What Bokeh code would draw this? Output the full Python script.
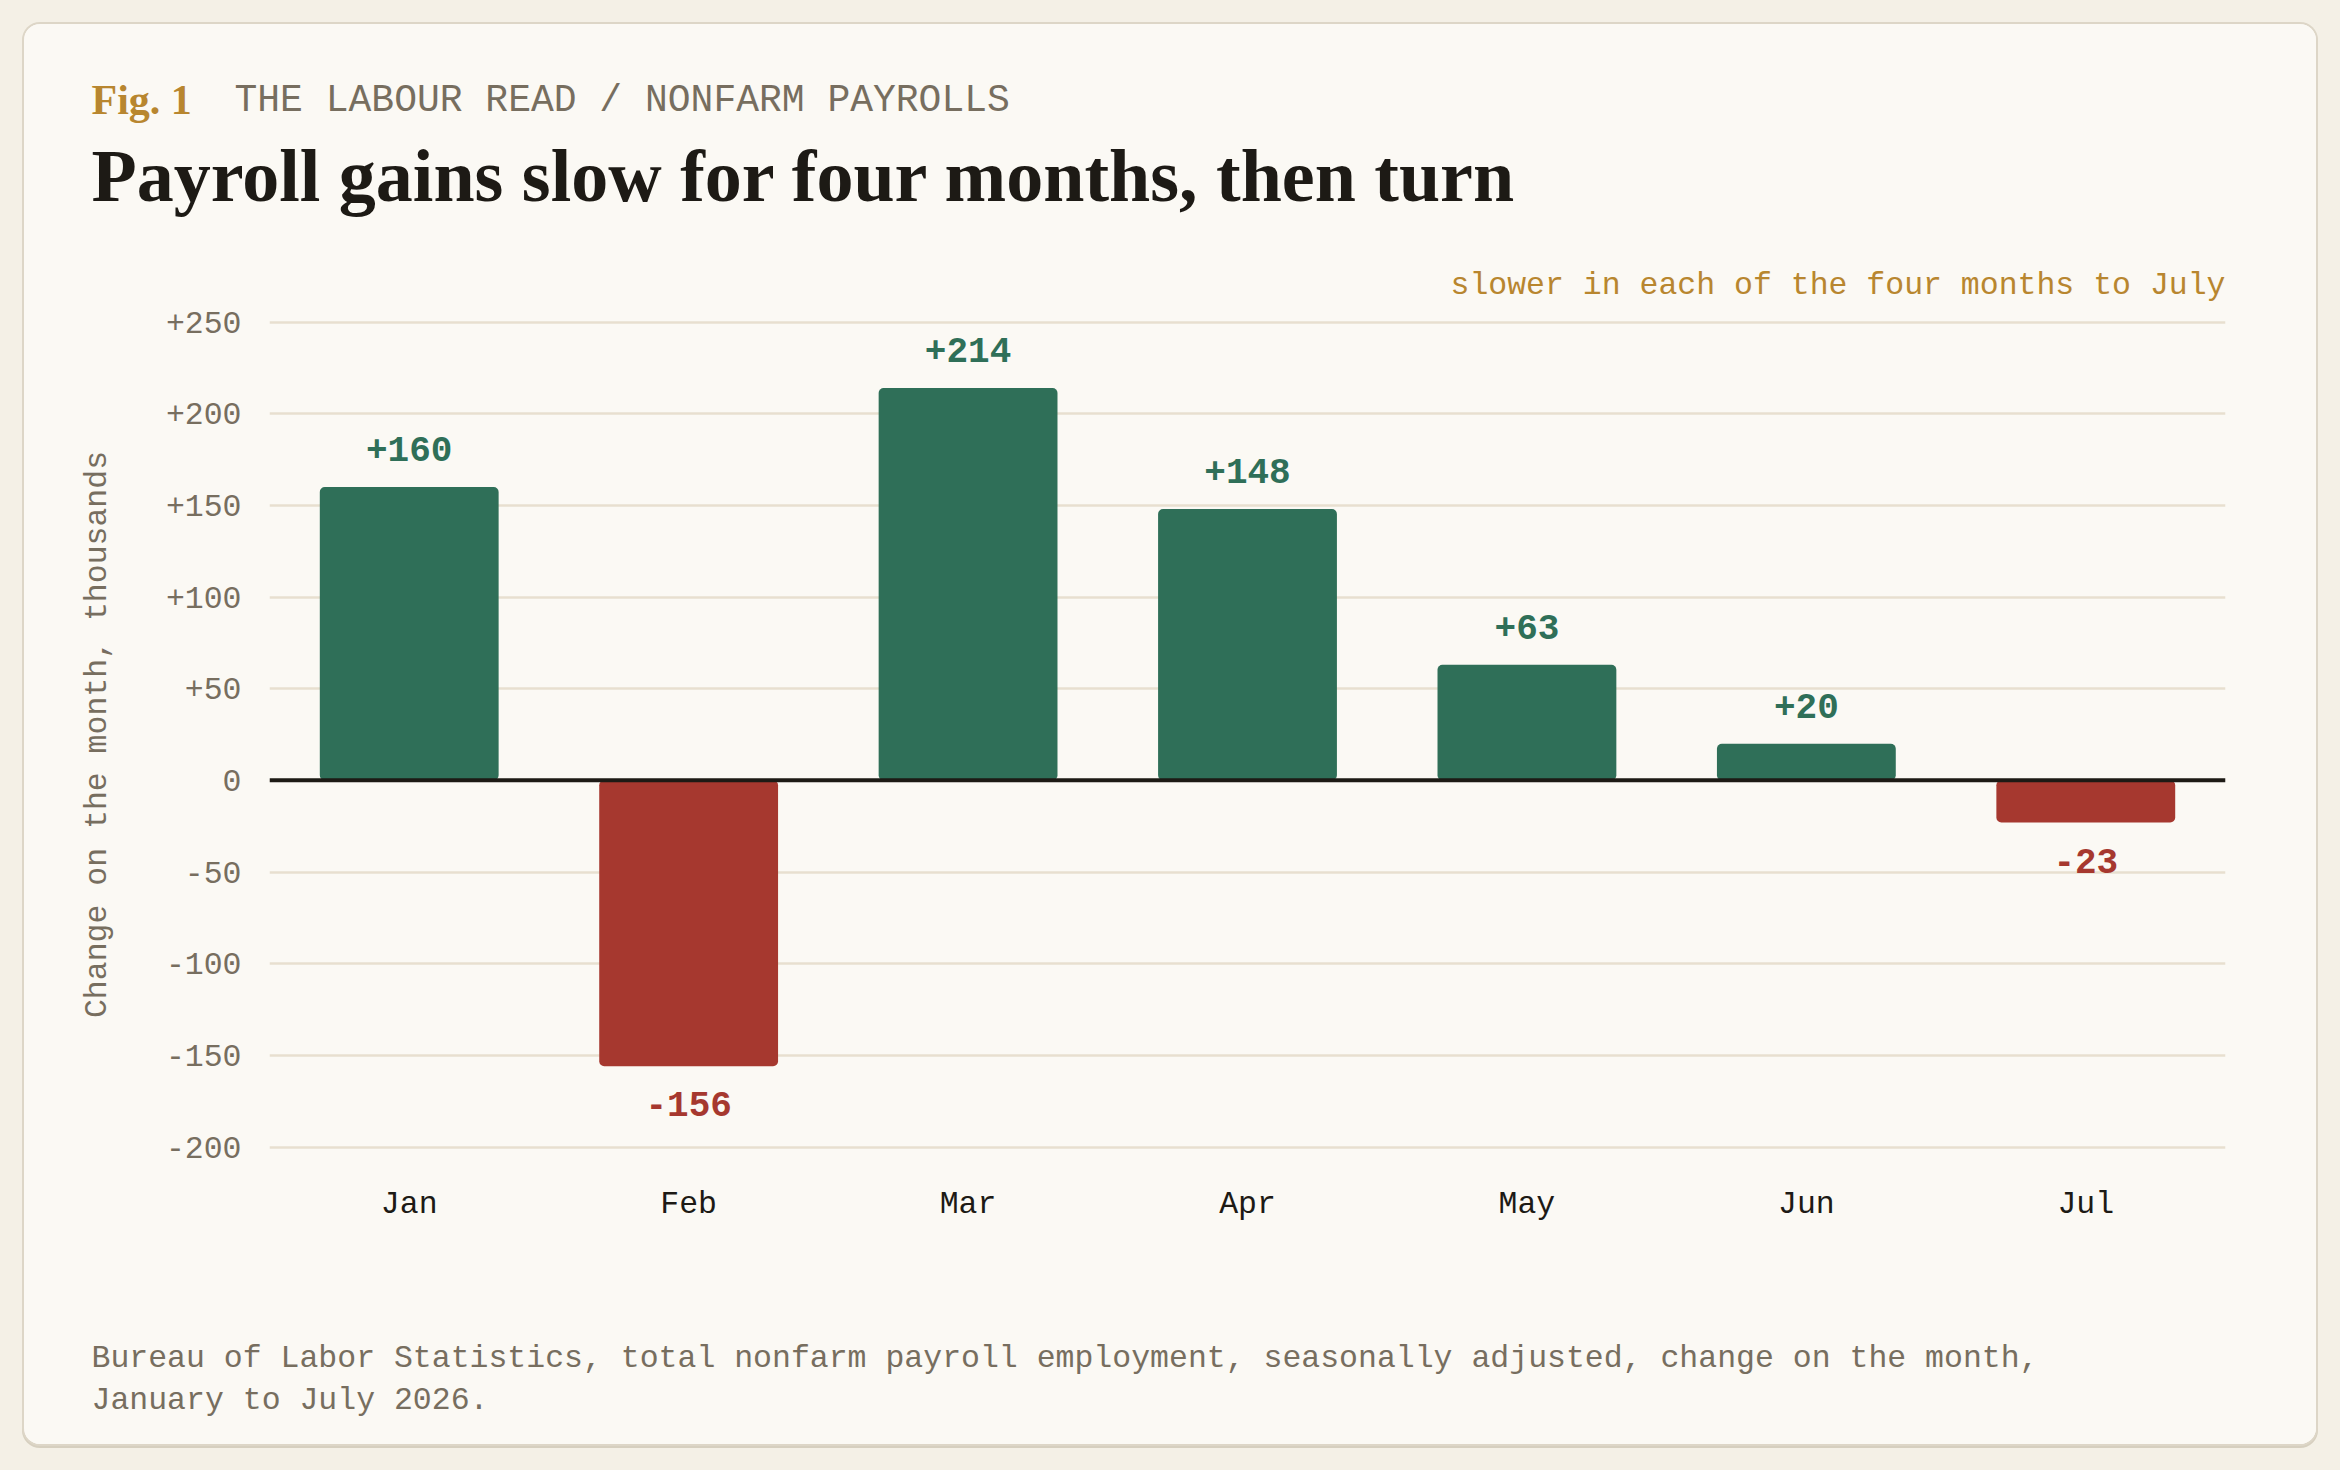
from bokeh.plotting import figure
from bokeh.models import ColumnDataSource, FactorRange, Range1d, Label, Span, Spacer
from bokeh.layouts import column, row
from bokeh.core.properties import value
from bokeh.embed import file_html
from bokeh.resources import INLINE

# data
months = ["Jan", "Feb", "Mar", "Apr", "May", "Jun", "Jul"]
change = [160, -156, 214, 148, 63, 20, -23]
y_ticks = [-200, -150, -100, -50, 0, 50, 100, 150, 200, 250]
y_tick_labels = ["-200", "-150", "-100", "-50", "0", "+50", "+100", "+150", "+200", "+250"]

# colours
PAGE = "#f4f0e6"
CARD = "#fbf9f4"
GREEN = "#2f6f58"
RED = "#a6382f"
GOLD = "#b8862f"
MUTED = "#776e5f"
INK = "#1d1a15"
GRID = "#e8dfcf"
MONO = "Liberation Mono"
SERIF = "Liberation Serif"

W = 2292  # card width

colors = [GREEN if v >= 0 else RED for v in change]
labels = [("+%d" % v) if v > 0 else str(v) for v in change]

src = ColumnDataSource(dict(month=months, change=change, color=colors))
pos = ColumnDataSource(dict(
    month=[m for m, v in zip(months, change) if v >= 0],
    change=[v for v in change if v >= 0],
    label=[l for l, v in zip(labels, change) if v >= 0]))
neg = ColumnDataSource(dict(
    month=[m for m, v in zip(months, change) if v < 0],
    change=[v for v in change if v < 0],
    label=[l for l, v in zip(labels, change) if v < 0]))


def text_panel(height):
    # plain figure whose frame is the whole panel, used to hold texts
    f = figure(width=W, height=height, output_backend="svg", toolbar_location=None,
               x_axis_type=None, y_axis_type=None, min_border=0,
               x_range=Range1d(0, W), y_range=Range1d(0, height),
               background_fill_color=CARD, border_fill_color=CARD, outline_line_color=None)
    f.grid.visible = False
    f.frame_align = False
    return f


def put(f, text, x, y, size, color, font=MONO, style="normal", align="left"):
    f.add_layout(Label(x=x, y=y, x_units="screen", y_units="screen", text=text,
                       text_font=font, text_font_size=size, text_font_style=style,
                       text_color=color, text_align=align, text_baseline="alphabetic"))


# header
head = text_panel(282)
put(head, "Fig. 1", 67, 207, "42px", GOLD, font=SERIF, style="bold")
put(head, "THE LABOUR READ / NONFARM PAYROLLS", 210, 206, "38px", MUTED)
put(head, "Payroll gains slow for four months, then turn", 67, 131, "74px", INK, font=SERIF, style="bold")
put(head, "slower in each of the four months to July", 2201, 21, "31.5px", GOLD, align="right")

# chart
p = figure(x_range=FactorRange(*months), y_range=Range1d(-203, 253),
           width=W, height=968, output_backend="svg", toolbar_location=None,
           min_border_left=245, min_border_right=91, min_border_top=10, min_border_bottom=122,
           background_fill_color=CARD, border_fill_color=CARD, outline_line_color=None)
p.frame_align = False

p.vbar(x="month", top="change", bottom=0, width=0.64, source=src,
       fill_color="color", line_color=None, border_radius=5)

p.add_layout(Span(location=0, dimension="width", line_color=INK, line_width=4))

p.text(x="month", y="change", text="label", source=pos, text_align="center",
       text_baseline="alphabetic", y_offset=-38, text_color=GREEN,
       text_font=value(MONO), text_font_style="bold", text_font_size="36px")
p.text(x="month", y="change", text="label", source=neg, text_align="center",
       text_baseline="alphabetic", y_offset=38, text_color=RED,
       text_font=value(MONO), text_font_style="bold", text_font_size="36px")

p.xgrid.grid_line_color = None
p.ygrid.grid_line_color = GRID
p.ygrid.grid_line_width = 2.5
p.yaxis.ticker = y_ticks
p.yaxis.major_label_overrides = dict(zip(y_ticks, y_tick_labels))
for ax in (p.xaxis[0], p.yaxis[0]):
    ax.axis_line_color = None
    ax.major_tick_line_color = None
    ax.minor_tick_line_color = None
    ax.major_tick_in = 0
    ax.major_tick_out = 0
    ax.major_label_text_font = MONO
    ax.major_label_text_font_size = "31.5px"
p.yaxis.major_label_text_color = MUTED
p.yaxis.major_label_standoff = 28
p.xaxis.major_label_text_color = INK
p.xaxis.major_label_standoff = 34

p.yaxis.axis_label = "Change on the month, thousands"
p.yaxis.axis_label_text_font = MONO
p.yaxis.axis_label_text_font_size = "31.5px"
p.yaxis.axis_label_text_font_style = "normal"
p.yaxis.axis_label_text_color = MUTED
p.yaxis.axis_label_standoff = 48

# footer
foot = text_panel(170)
put(foot, "Bureau of Labor Statistics, total nonfarm payroll employment, seasonally adjusted, change on the month,",
    67, 86, "31.5px", MUTED)
put(foot, "January to July 2026.", 67, 44, "31.5px", MUTED)

card = column(head, p, foot,
              styles={"border-radius": "16px", "overflow": "hidden", "background-color": CARD,
                      "box-shadow": "0 0 0 2px #ddd6c7, 0 2px 0 2px #d6cfbf"})

page = column(Spacer(height=24),
              row(Spacer(width=24), card, Spacer(width=24)),
              Spacer(height=26),
              styles={"background-color": PAGE})

open("out.html", "w").write(file_html(page, INLINE))
